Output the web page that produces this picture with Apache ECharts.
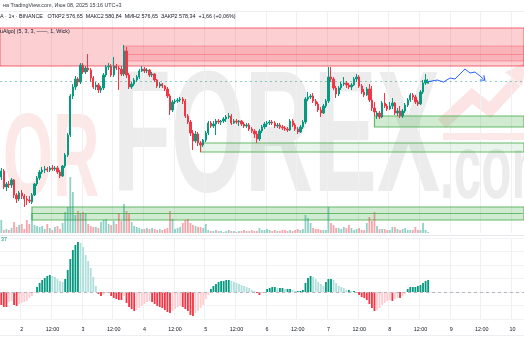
<!DOCTYPE html>
<html><head><meta charset="utf-8">
<script src="https://cdn.jsdelivr.net/npm/echarts@6/dist/echarts.min.js"></script>
<style>html,body{margin:0;padding:0;background:#fff}#c{width:524px;height:350px}</style>
</head><body><div id="c"></div>
<script>
// ---- time scale ----
const startDay = 1, startHour = 16, slotCount = 205;
const firstTickIndex = 8, tickStep = 12;
const tickLabels = ['2','12:00','3','12:00','4','12:00','5','12:00','6','12:00','7','12:00','8','12:00','9','12:00','10'];

// ---- hourly candles [open, close, low, high] ----
const day1 = [[2483,2489,2480,2492],[2489,2473,2471,2491],[2473,2476,2469,2478],[2476,2475,2472,2479],[2475,2480,2472,2482],[2480,2465,2462,2481],[2465,2461,2457,2467],[2461,2467,2459,2469]];
const day2 = [[2467,2464,2461,2470],[2464,2461,2453,2466],[2461,2460,2455,2464],[2460,2459,2457,2464],[2458,2465,2456,2467],[2465,2476,2464,2477],[2476,2482,2474,2484],[2482,2488,2480,2490],[2488,2490,2486,2493],[2490,2491,2487,2494],[2491,2490,2488,2493],[2490,2492,2488,2494],[2492,2491,2489,2495],[2491,2492,2489,2494],[2492,2488,2486,2494],[2488,2484,2482,2490],[2484,2494,2483,2495],[2494,2505,2492,2507],[2505,2525,2503,2527],[2525,2564,2523,2566],[2564,2573,2561,2576],[2573,2581,2570,2584],[2581,2578,2574,2583],[2578,2595,2576,2597]];
const day3 = [[2595,2588,2586,2597],[2588,2592,2586,2594],[2592,2590,2588,2606],[2590,2582,2578,2592],[2582,2573,2571,2584],[2573,2575,2570,2578],[2575,2570,2567,2577],[2570,2572,2567,2574],[2572,2585,2570,2587],[2585,2593,2583,2595],[2593,2594,2590,2597],[2594,2585,2583,2596],[2585,2594,2583,2603],[2594,2592,2590,2596],[2592,2591,2570,2594],[2591,2586,2584,2594],[2586,2609,2584,2615],[2609,2585,2582,2613],[2585,2573,2571,2587],[2573,2576,2571,2578],[2576,2580,2574,2582],[2580,2583,2578,2585],[2583,2589,2581,2591],[2589,2591,2588,2594]];
const day4 = [[2591,2589,2587,2593],[2589,2590,2587,2592],[2590,2585,2583,2591],[2585,2586,2583,2588],[2586,2580,2578,2587],[2580,2574,2572,2581],[2574,2576,2572,2578],[2576,2574,2572,2577],[2574,2571,2569,2575],[2571,2564,2562,2573],[2564,2550,2545,2566],[2550,2558,2548,2560],[2558,2559,2556,2561],[2559,2560,2557,2562],[2560,2561,2558,2563],[2561,2559,2556,2563],[2559,2544,2542,2561],[2544,2538,2536,2546],[2538,2527,2524,2540],[2527,2519,2510,2530],[2519,2526,2517,2529],[2526,2517,2514,2528],[2517,2515,2508,2519],[2515,2520,2513,2521]];
const day5 = [[2520,2527,2518,2529],[2527,2537,2525,2539],[2537,2534,2532,2539],[2534,2536,2532,2539],[2536,2539,2525,2541],[2539,2538,2536,2541],[2538,2539,2535,2540],[2539,2541,2537,2543],[2541,2543,2538,2545],[2543,2544,2541,2547],[2544,2537,2535,2546],[2537,2539,2536,2541],[2539,2538,2536,2541],[2538,2539,2534,2540],[2539,2536,2534,2540],[2536,2534,2532,2538],[2534,2535,2532,2537],[2535,2531,2529,2537],[2531,2529,2527,2533],[2529,2526,2522,2531],[2526,2521,2517,2529],[2521,2529,2519,2531],[2529,2533,2527,2535],[2533,2536,2531,2538]];
const day6 = [[2536,2537,2533,2539],[2537,2538,2535,2540],[2538,2537,2535,2540],[2537,2534,2532,2539],[2534,2535,2532,2537],[2535,2533,2531,2537],[2533,2532,2530,2535],[2532,2531,2529,2534],[2531,2530,2528,2533],[2530,2539,2529,2541],[2539,2535,2533,2541],[2535,2531,2529,2537],[2531,2528,2526,2533],[2528,2533,2527,2535],[2533,2538,2531,2540],[2538,2561,2536,2563],[2561,2563,2559,2568],[2563,2564,2561,2566],[2564,2559,2557,2567],[2559,2556,2554,2561],[2556,2550,2548,2558],[2550,2547,2543,2553],[2547,2554,2546,2556],[2554,2559,2552,2561]];
const day7 = [[2559,2583,2557,2593],[2583,2581,2578,2593],[2581,2572,2570,2583],[2572,2566,2562,2574],[2566,2572,2564,2574],[2572,2576,2570,2578],[2576,2577,2574,2583],[2577,2575,2572,2579],[2575,2573,2571,2577],[2573,2575,2570,2577],[2575,2581,2574,2583],[2581,2583,2578,2586],[2583,2574,2572,2585],[2574,2568,2566,2576],[2568,2565,2563,2571],[2565,2571,2564,2573],[2571,2560,2558,2576],[2560,2552,2549,2574],[2552,2548,2544,2558],[2544,2547,2541,2549],[2547,2543,2541,2549],[2543,2557,2542,2559],[2557,2554,2552,2567],[2554,2551,2549,2556]];
const day8 = [[2551,2554,2550,2558],[2554,2557,2551,2562],[2557,2547,2545,2558],[2547,2549,2544,2552],[2549,2544,2542,2554],[2544,2549,2542,2551],[2549,2555,2547,2557],[2555,2560,2553,2562],[2560,2565,2558,2567],[2565,2563,2560,2567],[2563,2558,2556,2565],[2558,2556,2554,2560],[2556,2568,2555,2570],[2568,2577,2566,2580],[2577,2580,2575,2586],[2576.65,2578.34,2576.65,2580.84]];

// ---- volume (relative units) ----
const volume = [13,3,4,3,5,11,6,8,9,4, 13,9,20,8,7,6,7,4,9,5, 3,6,7,4,10,21,26,56,41,18, 22,20,21,20,9,7,6,6,5,11,
 13,14,9,8,12,9,20,12,29,22, 19,11,7,6,5,4,4,5,4,5, 4,3,4,3,4,5,22,14,4,5, 6,10,13,14,10,8,7,6,6,5,
 9,3,2,2,3,2,2,1,2,3, 2,2,1,2,2,3,2,2,3,2, 2,5,3,3,4,3,2,3,2,2, 3,3,2,3,2,3,4,3,4,18,
 15,10,5,4,4,3,3,3,26,10, 8,5,5,4,6,5,8,5,3,4, 5,3,3,10,16,12,21,7,4,4, 4,3,3,6,6,4,3,4,5,3, 3,3,6,3,3,10,3,1];

// ---- oscillator histogram ----
const oscillator = [-13,-15,-15,-10,-9,-13,-14,-12,-11,-10, -9,-6,-4,-1,5,9,12,14,16,17, 16,15,13,11,10,13,22,33,42,47,
 50,49,45,37,31,24,15,6,-2,-4, -3,-1,-1,-4,-6,-7,-8,-8,-4,-11, -15,-17,-19,-18,-16,-14,-12,-10,-9,-10,
 -12,-14,-15,-16,-18,-20,-21,-19,-17,-15, -14,-15,-17,-19,-23,-24,-21,-19,-16,-13, -7,-3,3,6,8,10,11,11,12,12,
 11,10,9,8,7,6,5,4,2,1, -1,-3,-1,-1,3,4,5,5,4,4, 4,3,3,3,2,1,1,1,2,9, 14,16,15,13,10,8,6,10,13,13,
 12,9,6,5,4,2,2,1,1,-1, -3,-5,-6,-8,-12,-16,-19,-18,-16,-13, -11,-9,-8,-9,-7,-6,-6,-4,-2,3, 5,5,5,6,7,9,11,12];

// ---- zones ----
const supplyZone = {top: 2632, bottom: 2594, from: 0};
const supplyCore = {top: 2614, bottom: 2599, from: 48, mid: 2606};
const demandZones = [
  {top: 2544, bottom: 2533, from: 146, fill: 0.26},
  {top: 2517, bottom: 2508, from: 78, fill: 0.12},
  {top: 2453, bottom: 2440, from: 12, fill: 0.26, mid: 2447}
];
const lastClose = 2578.34;

// ---- projected path ----
const projIndex = [167, 170.5, 173, 175.6, 177.5, 181.4, 183.4, 185.3, 187.3, 188.6];
const projPrice = [2578.3, 2580, 2578, 2582, 2581, 2591, 2587, 2588, 2584, 2581];

// ---- build ----
const candles = [].concat(day1, day2, day3, day4, day5, day6, day7, day8);
const cats = [], labelOf = {};
for (let k = 0; k < slotCount; k++) {
  const h = startHour + k, d = startDay + Math.floor(h / 24);
  const c = '06-' + d + ' ' + (h % 24) + ':00';
  cats.push(c);
  if (k >= firstTickIndex && (k - firstTickIndex) % tickStep === 0) labelOf[c] = tickLabels[(k - firstTickIndex) / tickStep];
}
const isTick = (i, v) => labelOf[v] !== undefined;
const UP = '#089981', DN = '#f23645';

const zoneAreas = [];
zoneAreas.push([{yAxis: supplyZone.top, itemStyle: {color: 'rgba(242,54,69,0.24)', borderColor: 'rgba(242,54,69,0.75)', borderWidth: 1}}, {yAxis: supplyZone.bottom}]);
zoneAreas.push([{xAxis: supplyCore.from, yAxis: supplyCore.top, itemStyle: {color: 'rgba(242,54,69,0.18)', borderColor: 'rgba(242,54,69,0.35)', borderWidth: 1}}, {yAxis: supplyCore.bottom}]);
demandZones.forEach(z => zoneAreas.push([{xAxis: z.from, yAxis: z.top, itemStyle: {color: 'rgba(76,175,80,' + z.fill + ')', borderColor: 'rgba(76,175,80,0.85)', borderWidth: 1.2}}, {yAxis: z.bottom}]));

const zoneLines = [{yAxis: lastClose, lineStyle: {color: 'rgba(8,153,129,0.45)', type: [2, 3], width: 1}}];
zoneLines.push([{xAxis: supplyCore.from, yAxis: supplyCore.mid, lineStyle: {color: 'rgba(242,54,69,0.35)', type: 'solid', width: 1}}, {xAxis: slotCount - 1, yAxis: supplyCore.mid}]);
demandZones.filter(z => z.mid).forEach(z => zoneLines.push([{xAxis: z.from, yAxis: z.mid, lineStyle: {color: 'rgba(76,175,80,0.8)', type: 'solid', width: 1}}, {xAxis: slotCount - 1, yAxis: z.mid}]));

const wmGrey = '#ececec', wmRed = '#fde8e8';
const font = (s) => 'bold ' + s + 'px "Liberation Sans", Arial, sans-serif';
const small = '5.4px "Liberation Sans", Arial, sans-serif';

const chart = echarts.init(document.getElementById('c'), null, {renderer: 'canvas'});
chart.setOption({
  animation: false,
  backgroundColor: '#ffffff',
  grid: [
    {left: 0, right: 0, top: 11, height: 222},
    {left: 0, right: 0, top: 133, height: 100},
    {left: 0, right: 0, top: 238, height: 81}
  ],
  xAxis: [
    {type: 'category', gridIndex: 0, data: cats, boundaryGap: true, axisLine: {show: false}, axisTick: {show: false}, axisLabel: {show: false},
     splitLine: {show: true, interval: isTick, lineStyle: {color: '#eef0f3', width: 1}}},
    {type: 'category', gridIndex: 1, data: cats, boundaryGap: true, show: false},
    {type: 'category', gridIndex: 2, data: cats, boundaryGap: true, axisLine: {show: false}, axisTick: {show: false},
     axisLabel: {show: true, interval: isTick, formatter: (v) => labelOf[v] || '', color: '#131722', fontSize: 5.4, fontFamily: '"Liberation Sans", Arial, sans-serif', margin: 8},
     splitLine: {show: true, interval: isTick, lineStyle: {color: '#eef0f3', width: 1}}},
    {type: 'value', gridIndex: 0, min: -0.5, max: slotCount - 0.5, show: false}
  ],
  yAxis: [
    {type: 'value', gridIndex: 0, min: 2427, max: 2649, show: false},
    {type: 'value', gridIndex: 1, min: 0, max: 100, show: false},
    {type: 'value', gridIndex: 2, min: -27, max: 54, interval: 13.5, axisLabel: {show: false}, axisLine: {show: false}, axisTick: {show: false},
     splitLine: {show: true, lineStyle: {color: '#f2f3f5'}}}
  ],
  graphic: [
    {type: 'text', x: 3, y: 163, scaleX: 0.54, z: -5, silent: true, style: {text: 'OR', fill: wmRed, font: font(119), verticalAlign: 'middle'}},
    {type: 'text', x: 113, y: 144, scaleX: 0.552, z: -5, silent: true, style: {text: 'FOREX', fill: wmGrey, font: font(172), verticalAlign: 'middle'}},
    {type: 'text', x: 440, y: 173, scaleX: 0.55, z: -5, silent: true, style: {text: '.com', fill: wmGrey, font: font(90), verticalAlign: 'middle'}},
    {type: 'polyline', z: -5, silent: true, shape: {points: [[442, 124], [472, 96], [490, 110], [516, 82]]}, style: {stroke: '#fde4e4', lineWidth: 12, fill: null}},
    {type: 'polygon', z: -5, silent: true, shape: {points: [[505, 72], [526, 62], [522, 86]]}, style: {fill: '#fde4e4'}},
    {type: 'rect', z: -5, silent: true, shape: {x: 443, y: 133, width: 81, height: 7}, style: {fill: '#fde8e8'}},
    {type: 'line', z: 1, silent: true, shape: {x1: 0, y1: 11.5, x2: 524, y2: 11.5}, style: {stroke: '#eceef2', lineWidth: 1}},
    {type: 'line', z: 1, silent: true, shape: {x1: 0, y1: 235.5, x2: 524, y2: 235.5}, style: {stroke: '#e6e8ec', lineWidth: 1}},
    {type: 'line', z: 1, silent: true, shape: {x1: 0, y1: 335.5, x2: 524, y2: 335.5}, style: {stroke: '#eceef2', lineWidth: 1}},
    {type: 'text', x: 3, y: 6, z: 50, silent: true, style: {text: 'на TradingView.com, Июн 08, 2025 15:16 UTC+3', fill: '#333740', font: small, verticalAlign: 'middle'}},
    {type: 'text', x: 0, y: 17, z: 50, silent: true, style: {text: 'A · 1ч · BINANCE   ОТКР2 576,65  МАКС2 580,84  МИН2 576,65  ЗАКР2 578,34  +1,66 (+0,06%)', fill: '#131722', font: small, verticalAlign: 'middle'}},
    {type: 'text', x: 0, y: 32, z: 50, silent: true, style: {text: 'uAlgo] (5, 3, 3, ——, 1, Wick)', fill: '#131722', font: small, verticalAlign: 'middle'}},
    {type: 'text', x: 1, y: 240, z: 50, silent: true, style: {text: '37', fill: '#089981', font: small, verticalAlign: 'middle'}}
  ],
  series: [
    {type: 'candlestick', name: 'price', xAxisIndex: 0, yAxisIndex: 0, data: candles, barWidth: '72%', z: 3,
     itemStyle: {color: UP, color0: DN, borderColor: UP, borderColor0: DN, borderWidth: 1},
     markArea: {silent: true, data: zoneAreas},
     markLine: {silent: true, symbol: 'none', label: {show: false}, data: zoneLines}},
    {type: 'bar', name: 'volume', xAxisIndex: 1, yAxisIndex: 1, data: volume, barWidth: '70%', z: 4,
     itemStyle: {color: (p) => candles[p.dataIndex][1] >= candles[p.dataIndex][0] ? 'rgba(8,153,129,0.45)' : 'rgba(242,54,69,0.45)'}},
    {type: 'bar', name: 'osc', xAxisIndex: 2, yAxisIndex: 2, data: oscillator, barWidth: '72%', z: 4,
     itemStyle: {color: (p) => {
       const i = p.dataIndex, v = oscillator[i], pv = i > 0 ? oscillator[i - 1] : v;
       if (v >= 0) return v >= pv ? '#089981' : '#b2dfdb';
       return v <= pv ? '#f23645' : '#ffcdd2';
     }},
     markLine: {silent: true, symbol: 'none', label: {show: false}, data: [{yAxis: 0, lineStyle: {color: '#b2b5be', type: [3, 3], width: 1}}]}},
    {type: 'line', name: 'projection', xAxisIndex: 3, yAxisIndex: 0, z: 6,
     data: projIndex.map((x, i) => i === projIndex.length - 1
       ? {value: [x, projPrice[i]], symbol: 'path://M0,0L5,6L10,0', symbolSize: [6, 4], symbolRotate: 50, symbolKeepAspect: false, itemStyle: {color: 'none', borderColor: '#2962ff', borderWidth: 1}}
       : {value: [x, projPrice[i]], symbol: 'none'}),
     lineStyle: {color: '#2962ff', width: 1}, showSymbol: true}
  ]
});
</script></body></html>
